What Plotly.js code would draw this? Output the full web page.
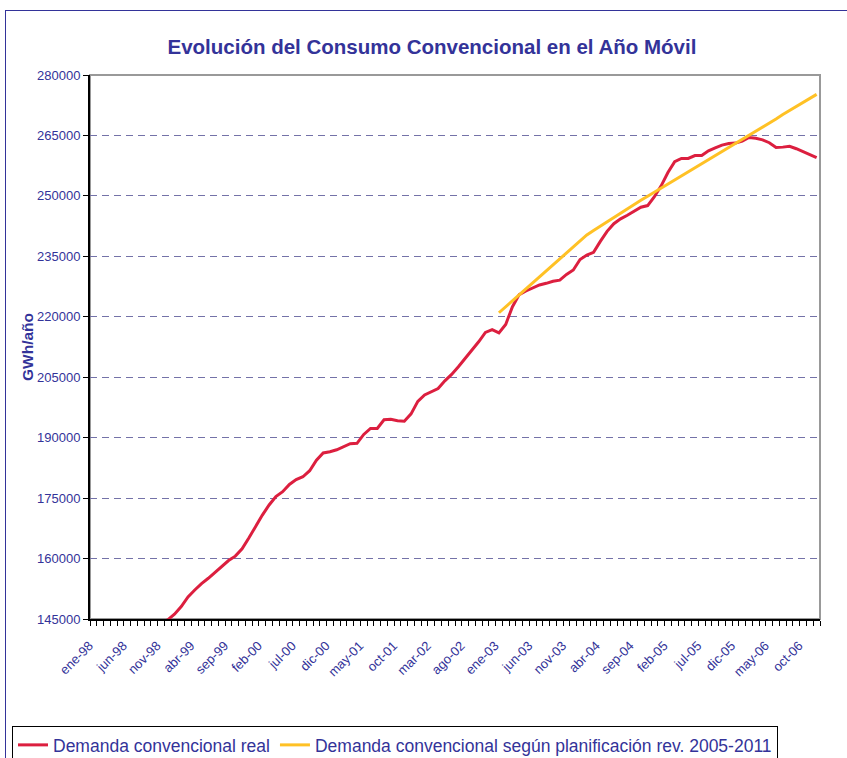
<!DOCTYPE html>
<html>
<head>
<meta charset="utf-8">
<script src="https://cdn.plot.ly/plotly-3.0.1.min.js"></script>
<style>
  body { margin: 0; background: #fff; }
  #wrap { position: relative; width: 847px; height: 758px; overflow: hidden; }
  #myDiv { width: 847px; height: 758px; }
  #frame {
    position: absolute; left: 5px; top: 10px; width: 900px; height: 800px;
    border-top: 1px solid #333399; border-left: 1px solid #333399;
    pointer-events: none;
  }
</style>
</head>
<body>
<div id="wrap">
  <div id="myDiv"></div>
  <div id="frame"></div>
</div>
<script>
const monthNames = ['ene', 'feb', 'mar', 'abr', 'may', 'jun', 'jul', 'ago', 'sep', 'oct', 'nov', 'dic'];
const years = ['98', '99', '00', '01', '02', '03', '04', '05', '06'];

// demanda real, ene-98 .. dic-06 (GWh/año)
const demandaReal = [
  127500, 129000, 130800, 132300, 134000, 135600, 137200, 138800, 140400, 142000, 143700, 144800,
  146200, 148100, 150500, 152200, 153800, 155100, 156500, 158000, 159500, 160600, 162400, 165100,
  168000, 170800, 173300, 175400, 176600, 178400, 179600, 180300, 181800, 184400, 186200, 186500,
  187000, 187800, 188500, 188600, 190800, 192300, 192300, 194450, 194550, 194200, 194100, 195900,
  199000, 200600, 201500, 202200, 204100, 205700, 207600, 209600, 211800, 213800, 216100, 216800,
  216000, 218100, 222500, 225500, 226400, 227100, 227900, 228300, 228800, 229100, 230500, 231600,
  234200, 235300, 236000, 238700, 241200, 243100, 244300, 245200, 246200, 247200, 247600, 249800,
  252500, 255800, 258500, 259300, 259300, 260000, 260000, 261200, 261900, 262600, 263000, 263100,
  263600, 264500, 264300, 263900, 263200, 262000, 262100, 262300, 261700, 261000, 260100, 259500,
];

// planificación rev. 2005-2011, desde ene-03
const planStart = 'ene-03';
const demandaPlan = [
  221000, 222500, 224000, 225500, 227000, 228500, 230000, 231500, 233000, 234500, 236000, 237500,
  239000, 240300, 241400, 242500, 243600, 244700, 245800, 246800, 247800, 248900, 249900, 250900,
  251900, 252900, 253900, 254900, 255900, 256900, 257900, 258900, 259900, 260900, 261900, 262900,
  263900, 264900, 266000, 267000, 268100, 269100, 270200, 271200, 272200, 273200, 274200, 275200,
];

const months = [];
years.forEach((y) => {
  monthNames.forEach((m) => months.push(m + '-' + y));
});
const tickLabels = months.map((m, i) => (i % 5 === 0 ? m : ''));

const navy = '#333399';
const fontFam = '"Liberation Sans", Arial, sans-serif';

const trace1 = {
  x: months,
  y: demandaReal,
  type: 'scatter',
  mode: 'lines',
  line: { color: '#DC1F3F', width: 3 },
  name: 'Demanda convencional real',
};

const trace2 = {
  x: months.slice(months.indexOf(planStart)),
  y: demandaPlan,
  type: 'scatter',
  mode: 'lines',
  line: { color: '#FFC125', width: 3 },
  name: 'Demanda convencional según planificación rev. 2005-2011',
};

const layout = {
  width: 847,
  height: 758,
  margin: { l: 90, r: 27, t: 75, b: 139, autoexpand: false },
  paper_bgcolor: '#fff',
  plot_bgcolor: '#fff',
  font: { family: fontFam, color: navy },
  title: {
    text: '<b>Evolución del Consumo Convencional en el Año Móvil</b>',
    font: { size: 20.5, color: navy },
    xref: 'container',
    x: 0.51,
    xanchor: 'center',
    yref: 'container',
    y: 1 - 47 / 758,
    yanchor: 'middle',
  },
  xaxis: {
    type: 'category',
    range: [-0.5, months.length - 0.5],
    tickmode: 'array',
    tickvals: months,
    ticktext: tickLabels,
    tickson: 'boundaries',
    ticks: 'outside',
    ticklen: 5,
    tickcolor: '#000',
    tickwidth: 1,
    tickangle: -45,
    ticklabelstandoff: 12,
    ticklabelshift: -4,
    tickfont: { size: 13, color: navy },
    showline: true,
    linecolor: '#000',
    linewidth: 2,
    showgrid: false,
    zeroline: false,
    fixedrange: true,
  },
  yaxis: {
    title: { text: '<b>GWh/año</b>', font: { size: 15.5, color: navy }, standoff: 0 },
    range: [145000, 280000],
    tick0: 145000,
    dtick: 15000,
    tickformat: 'd',
    ticks: 'outside',
    ticklen: 5,
    tickcolor: '#000',
    tickfont: { size: 13, color: navy },
    showline: true,
    linecolor: '#000',
    linewidth: 2,
    showgrid: true,
    gridcolor: '#7472a8',
    gridwidth: 1,
    griddash: '7px,5px',
    zeroline: false,
    fixedrange: true,
  },
  shapes: [
    {
      type: 'rect',
      xref: 'paper',
      yref: 'paper',
      x0: 0, x1: 1, y0: 0, y1: 1,
      line: { color: '#999999', width: 2 },
      layer: 'below',
    },
  ],
  showlegend: true,
  legend: {
    orientation: 'h',
    xref: 'paper',
    yref: 'paper',
    x: (12 - 90) / 730,
    xanchor: 'left',
    // legend top at 726px, below the plot area (bottom 619px, height 544px)
    y: (619 - 726) / 544,
    yanchor: 'top',
    bordercolor: '#000',
    borderwidth: 1,
    font: { size: 17.5, color: navy },
    tracegroupgap: 0,
  },
};

Plotly.newPlot('myDiv', [trace1, trace2], layout, { staticPlot: true });
</script>
</body>
</html>
